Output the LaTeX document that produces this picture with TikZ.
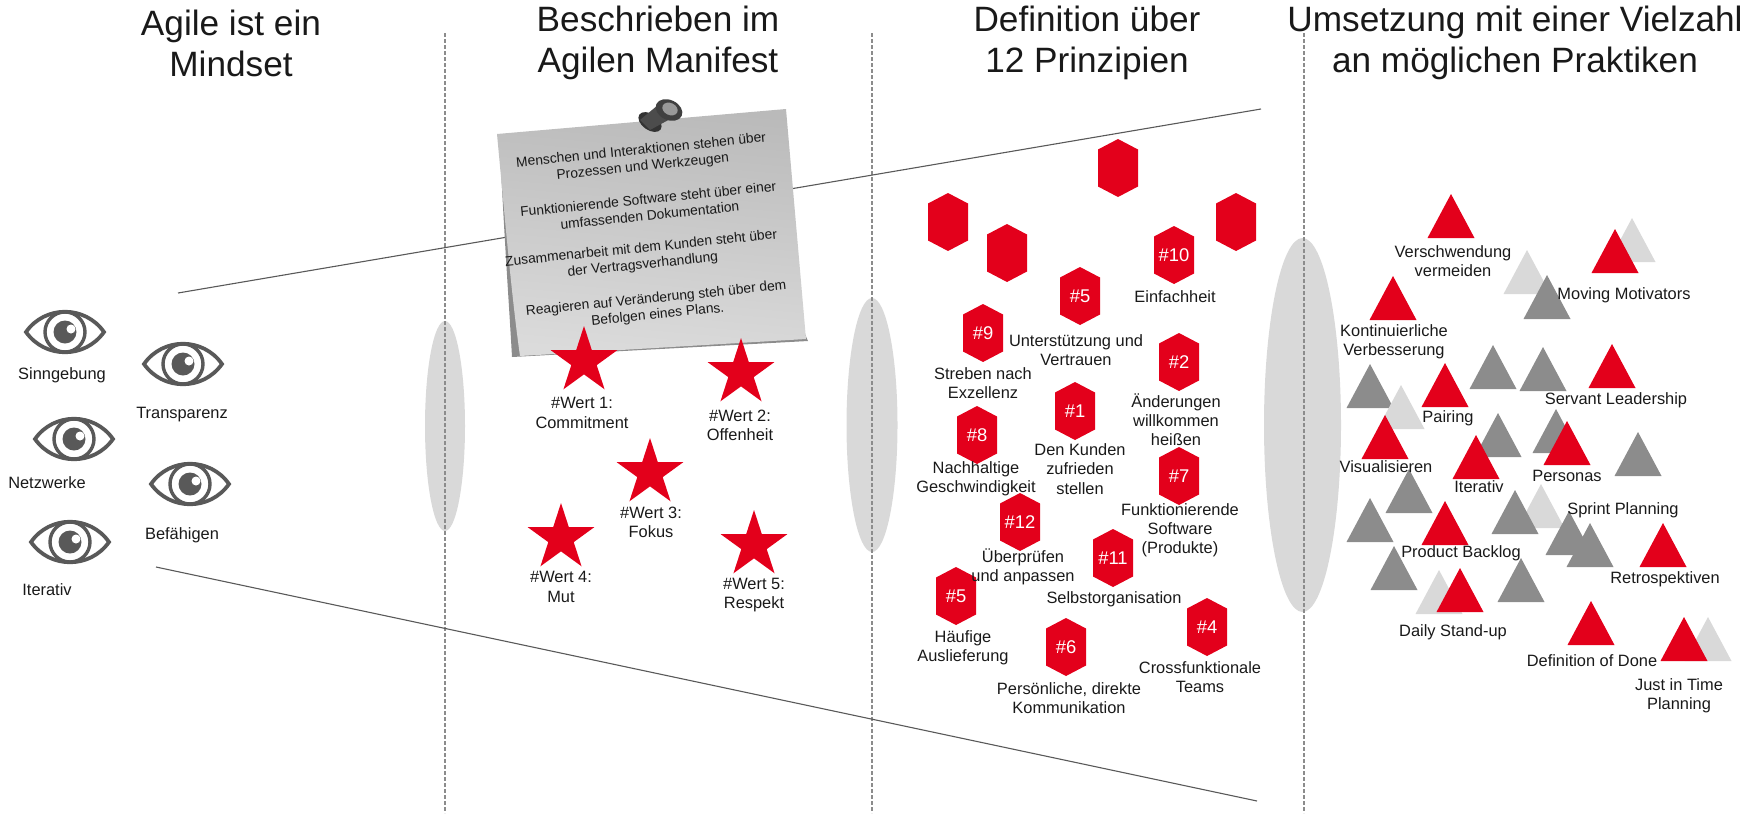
\documentclass[tikz,border=0pt]{standalone}
\usepackage{fontspec}
\setmainfont{Liberation Sans}
\usetikzlibrary{shapes.geometric}
\definecolor{agred}{HTML}{E3001B}
\definecolor{agdark}{HTML}{8C8C8C}
\definecolor{aglight}{HTML}{D9D9D9}
\definecolor{ageye}{HTML}{595959}
\definecolor{agline}{HTML}{595959}
\tikzset{
  titletext/.style={align=center,font=\fontsize{17.6}{20.5}\selectfont,text=black!90},
  lab/.style={align=center,font=\fontsize{8.2}{9.6}\selectfont,text=black!90,inner sep=0pt},
  notetext/.style={align=center,font=\fontsize{6.9}{8.2}\selectfont,text=black!90,inner sep=0pt,rotate=5.8},
  hexlab/.style={font=\fontsize{9.2}{11}\selectfont,text=white,inner sep=0pt},
  sep/.style={draw=agdark,line width=0.6pt,dash pattern=on 2pt off 1pt},
  conn/.style={draw=agline,line width=0.55pt},
  blob/.style={ellipse,fill=aglight,draw=none,inner sep=0pt},
  starshape/.style={star,star points=5,star point ratio=2.618,fill=agred,draw=none,minimum size=35pt,inner sep=0pt},
  eye/.pic={
    \draw[ageye,line width=1.9pt,line join=miter] (-39,0) .. controls (-20,-27) and (20,-27) .. (39,0) .. controls (20,27) and (-20,27) .. (-39,0) -- cycle;
    \draw[ageye,line width=1.7pt] (0,0) circle (20);
    \fill[ageye] (0,0) circle (11.5);
    \fill[white] (6,-3) circle (4.5);
  }
}
\newcommand{\agtri}[3]{\fill[#3] (#1-23.5,#2) -- (#1+23.5,#2) -- (#1,#2-44) -- cycle;}
\newcommand{\aghex}[2]{\fill[agred] (#1,#2-29) -- (#1+20,#2-18.5) -- (#1+20,#2+18.5) -- (#1,#2+29) -- (#1-20,#2+18.5) -- (#1-20,#2-18.5) -- cycle;}
\begin{document}
\begin{tikzpicture}[x=0.5pt,y=-0.5pt]
\useasboundingbox (0,0) rectangle (1745,814);
% blobs
\node[blob,minimum width=20pt,minimum height=105pt] (blobA) at (445,426) {};
\node[blob,minimum width=25.5pt,minimum height=127pt] (blobB) at (872,425) {};
\node[blob,minimum width=38.5pt,minimum height=187pt] (blobC) at (1302.5,425) {};
% separators
\coordinate (sA1) at (445,33); \coordinate (sA2) at (445,813);
\coordinate (sB1) at (872,33); \coordinate (sB2) at (872,813);
\coordinate (sC1) at (1304,33); \coordinate (sC2) at (1304,813);
\draw[sep] (sA1) -- (sA2);
\draw[sep] (sB1) -- (sB2);
\draw[sep] (sC1) -- (sC2);
% funnel lines
\coordinate (lT1) at (178,293); \coordinate (lT2) at (1261,109);
\coordinate (lB1) at (156,567); \coordinate (lB2) at (1257,801);
\draw[conn] (lT1) -- (lT2);
\draw[conn] (lB1) -- (lB2);
% titles
\node[titletext] (t1) at (231,43) {Agile ist ein\\Mindset};
\node[titletext] (t2) at (658,43) {Beschrieben im\\Agilen Manifest};
\node[titletext] (t3) at (1087,43) {Definition über\\12 Prinzipien};
\node[titletext] (t4) at (1515,43) {Umsetzung mit einer Vielzahl\\an möglichen Praktiken};
% eyes
\pic at (65,332) {eye};
\pic at (183,364) {eye};
\pic at (74,439) {eye};
\pic at (190,484) {eye};
\pic at (70,542) {eye};
\node[lab] (e1) at (62,375) {Sinngebung};
\node[lab] (e2) at (182,415) {Transparenz};
\node[lab] (e3) at (47,483) {Netzwerke};
\node[lab] (e4) at (182,535) {Befähigen};
\node[lab] (e5) at (47,590) {Iterativ};
% note
\fill[black!45] (500,150) .. controls (505,250) and (510,320) .. (512,357) -- (808,341) -- (790,300) -- cycle;
\shade[top color=black!27,bottom color=black!14,shading angle=-5] (497,134) -- (786,109) -- (806,339) -- (520,356) .. controls (512,300) and (505,220) .. (497,134) -- cycle;
\fill[black!80,rotate around={-35:(650,122)}] (650,122) ellipse (13 and 8);
\fill[black!70] (658,105) -- (672,118) -- (650,130) -- (640,120) -- cycle;
\fill[black!75,rotate around={-25:(669,110)}] (669,110) ellipse (14 and 10);
\fill[black!40,rotate around={-25:(670,109)}] (670,109) ellipse (8 and 6);
\node[notetext] (n1) at (642,159) {Menschen und Interaktionen stehen über\\Prozessen und Werkzeugen};
\node[notetext] (n2) at (649,207) {Funktionierende Software steht über einer\\umfassenden Dokumentation};
\node[notetext] (n3) at (642,257) {Zusammenarbeit mit dem Kunden steht über\\der Vertragsverhandlung};
\node[notetext] (n4) at (657,307) {Reagieren auf Veränderung steh über dem\\Befolgen eines Plans.};
% stars
\node[starshape] (s1) at (584,361) {};
\node[starshape] (s2) at (741,373) {};
\node[starshape] (s3) at (650,473) {};
\node[starshape] (s4) at (561,538) {};
\node[starshape] (s5) at (754,545) {};
\node[lab] (sl1) at (582,413) {\#Wert 1:\\Commitment};
\node[lab] (sl2) at (740,425) {\#Wert 2:\\Offenheit};
\node[lab] (sl3) at (651,522) {\#Wert 3:\\Fokus};
\node[lab] (sl4) at (561,587) {\#Wert 4:\\Mut};
\node[lab] (sl5) at (754,595) {\#Wert 5:\\Respekt};
% hexagons
\aghex{1118}{168}\aghex{948}{222}\aghex{1007}{253}\aghex{1236}{222}
\aghex{1174}{255}\node[hexlab] (h10) at (1174,255) {\#10};
\aghex{1080}{296}\node[hexlab] (h5a) at (1080,296) {\#5};
\aghex{983}{333}\node[hexlab] (h9) at (983,333) {\#9};
\aghex{1179}{362}\node[hexlab] (h2) at (1179,362) {\#2};
\aghex{1075}{411}\node[hexlab] (h1) at (1075,411) {\#1};
\aghex{977}{435}\node[hexlab] (h8) at (977,435) {\#8};
\aghex{1179}{476}\node[hexlab] (h7) at (1179,476) {\#7};
\aghex{1020}{522}\node[hexlab] (h12) at (1020,522) {\#12};
\aghex{1113}{558}\node[hexlab] (h11) at (1113,558) {\#11};
\aghex{956}{596}\node[hexlab] (h5b) at (956,596) {\#5};
\aghex{1207}{627}\node[hexlab] (h4) at (1207,627) {\#4};
\aghex{1066}{647}\node[hexlab] (h6) at (1066,647) {\#6};
\node[lab] (hl10) at (1175,297) {Einfachheit};
\node[lab] (hl5a) at (1076,350) {Unterstützung und\\Vertrauen};
\node[lab] (hl9) at (983,383) {Streben nach\\Exzellenz};
\node[lab] (hl2) at (1176,420) {Änderungen\\willkommen\\heißen};
\node[lab] (hl1) at (1080,469) {Den Kunden\\zufrieden\\stellen};
\node[lab] (hl8) at (976,479) {Nachhaltige\\Geschwindigkeit};
\node[lab] (hl7) at (1180,530) {Funktionierende\\Software\\(Produkte)};
\node[lab] (hl12) at (1023,567) {Überprüfen\\und anpassen};
\node[lab] (hl11) at (1114,599) {Selbstorganisation};
\node[lab] (hl5b) at (963,648) {Häufige\\Auslieferung};
\node[lab] (hl4) at (1200,677) {Crossfunktionale\\Teams};
\node[lab] (hl6) at (1069,698) {Persönliche, direkte\\Kommunikation};
% triangles
\agtri{1370}{408}{agdark}
\agtri{1632}{262}{aglight}\agtri{1527}{294}{aglight}\agtri{1401}{429}{aglight}\agtri{1541}{528}{aglight}\agtri{1439}{614}{aglight}\agtri{1708}{661}{aglight}
\agtri{1547}{319}{agdark}\agtri{1493}{389}{agdark}\agtri{1543}{391}{agdark}\agtri{1498}{457}{agdark}\agtri{1556}{453}{agdark}\agtri{1409}{513}{agdark}\agtri{1370}{542}{agdark}\agtri{1515}{534}{agdark}\agtri{1394}{590}{agdark}\agtri{1521}{602}{agdark}\agtri{1569}{555}{agdark}\agtri{1590}{567}{agdark}\agtri{1638}{476}{agdark}
\agtri{1451}{238}{agred}\agtri{1393}{320}{agred}\agtri{1445}{407}{agred}\agtri{1385}{459}{agred}\agtri{1476}{479}{agred}\agtri{1445}{545}{agred}\agtri{1460}{612}{agred}\agtri{1567}{465}{agred}\agtri{1615}{273}{agred}\agtri{1612}{388}{agred}\agtri{1663}{567}{agred}\agtri{1591}{645}{agred}\agtri{1684}{661}{agred}
\node[lab] (p1) at (1453,261) {Verschwendung\\vermeiden};
\node[lab] (p2) at (1394,342) {Kontinuierliche\\Verbesserung};
\node[lab] (p3) at (1448,418) {Pairing};
\node[lab] (p4) at (1386,467) {Visualisieren};
\node[lab] (p5) at (1479,487) {Iterativ};
\node[lab] (p6) at (1461,553) {Product Backlog};
\node[lab] (p7) at (1453,632) {Daily Stand-up};
\node[lab] (p8) at (1567,476) {Personas};
\node[lab] (p9) at (1624,295) {Moving Motivators};
\node[lab] (p10) at (1616,400) {Servant Leadership};
\node[lab] (p11) at (1623,510) {Sprint Planning};
\node[lab] (p12) at (1665,579) {Retrospektiven};
\node[lab] (p13) at (1592,661) {Definition of Done};
\node[lab] (p14) at (1679,696) {Just in Time\\Planning};
\end{tikzpicture}
\end{document}
